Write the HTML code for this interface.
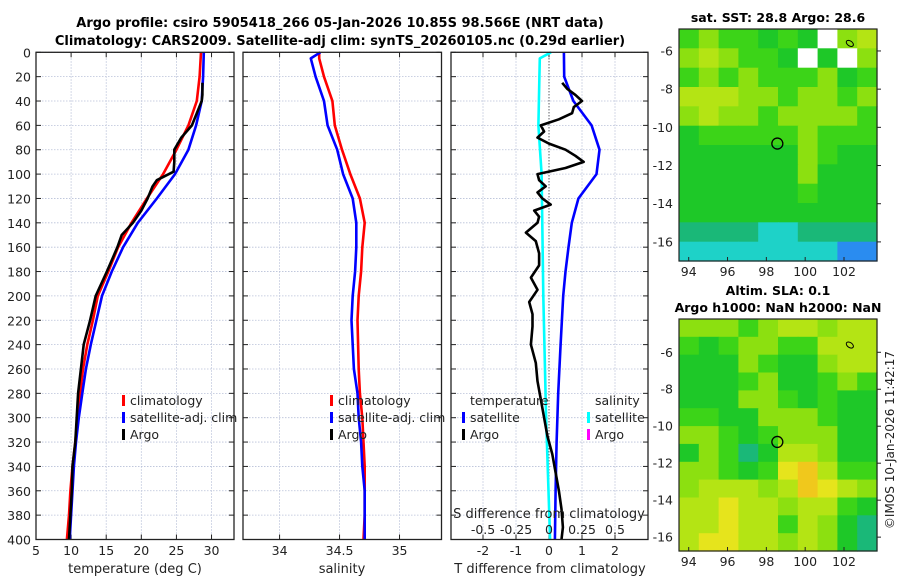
<!DOCTYPE html>
<html><head><meta charset="utf-8"><style>
body{margin:0;background:#fff}
svg{display:block;font-family:"DejaVu Sans","Liberation Sans",sans-serif}
</style></head><body>
<svg id="c" width="900" height="580" viewBox="0 0 900 580" xmlns="http://www.w3.org/2000/svg">
<text x="340" y="27" text-anchor="middle" font-size="13" font-weight="bold">Argo profile: csiro 5905418_266 05-Jan-2026 10.85S 98.566E (NRT data)</text>
<text x="340" y="45" text-anchor="middle" font-size="13" font-weight="bold">Climatology: CARS2009. Satellite-adj clim: synTS_20260105.nc (0.29d earlier)</text>
<text x="778" y="22" text-anchor="middle" font-size="12.5" font-weight="bold">sat. SST: 28.8 Argo: 28.6</text>
<text x="778" y="295" text-anchor="middle" font-size="12.5" font-weight="bold">Altim. SLA: 0.1</text>
<text x="778" y="312" text-anchor="middle" font-size="12.5" font-weight="bold">Argo h1000: NaN h2000: NaN</text>
<text transform="translate(894,440) rotate(-90)" text-anchor="middle" font-size="12" fill="#222">©IMOS 10-Jan-2026 11:42:17</text>
</svg>
<script>
// ---- data ----
const depthTicks=[0,20,40,60,80,100,120,140,160,180,200,220,240,260,280,300,320,340,360,380,400];
const tempTicks=[5,10,15,20,25,30];
const salTicks=[34,34.5,35];
const tdTicks=[-2,-1,0,1,2];
const sdTickLabels=['-0.5','-0.25','0','0.25','0.5'];
const sdTicks=[-0.5,-0.25,0,0.25,0.5];
const climDepth=[0,20,40,60,80,100,120,140,160,180,200,220,240,260,280,300,320,340,360,380,400];
const climTemp=[28.5,28.3,27.9,26.7,25.0,23.1,20.8,18.6,16.7,15.3,13.8,13.1,12.3,11.7,11.3,10.9,10.6,10.2,9.9,9.7,9.4];
const satTemp=[28.9,28.8,28.6,27.8,26.7,24.8,22.2,19.5,17.4,15.8,14.4,13.6,12.8,12.1,11.6,11.1,10.7,10.4,10.2,10.0,9.8];
const argoDepth=[25,35,40,50,60,70,80,90,98,105,110,120,130,140,150,160,180,200,220,240,260,280,300,320,340,360,380,400];
const argoTemp=[28.7,28.7,28.6,27.9,27.2,25.7,24.7,24.7,24.6,22.2,21.6,20.9,20.0,18.8,17.2,16.6,15.1,13.5,12.7,11.8,11.4,11.0,10.8,10.6,10.2,10.1,9.9,9.7];
const salDepth=[0,5,20,40,60,80,100,120,140,160,180,200,220,260,280,300,320,340,360,380,400];
const climSal=[34.33,34.33,34.37,34.44,34.46,34.52,34.59,34.67,34.71,34.69,34.68,34.66,34.65,34.66,34.67,34.69,34.70,34.71,34.71,34.71,34.70];
const satSal=[34.34,34.26,34.30,34.37,34.40,34.48,34.53,34.61,34.64,34.64,34.63,34.61,34.60,34.62,34.65,34.66,34.68,34.69,34.71,34.71,34.71];
const satTdDepth=[0,20,40,60,80,100,120,140,160,180,200,240,280,320,360,400];
const satTdiff=[0.45,0.46,0.74,1.29,1.53,1.44,0.89,0.69,0.59,0.5,0.43,0.35,0.28,0.23,0.2,0.18];
const argoTdDepth=[25,30,35,40,45,50,55,60,65,70,75,80,85,90,95,100,105,110,115,120,125,130,135,140,148,155,165,175,185,195,205,215,225,240,255,270,285,300,315,330,345,360,375,390,400];
const argoTdiff=[0.4,0.55,0.8,1.0,0.75,0.7,0.3,-0.25,-0.15,-0.35,0.0,0.5,0.8,1.05,0.5,-0.35,-0.3,-0.1,-0.35,-0.2,0.05,-0.45,-0.3,-0.35,-0.7,-0.4,-0.3,-0.3,-0.55,-0.35,-0.6,-0.5,-0.5,-0.55,-0.4,-0.35,-0.25,-0.15,-0.05,0.1,0.2,0.3,0.38,0.42,0.38];
const satSdDepth=[0,5,20,60,100,200,300,400];
const satSdiff=[0.015,-0.07,-0.073,-0.08,-0.056,-0.043,-0.022,0.008];
const lonTicks=[94,96,98,100,102];
const sstLatTicks=[-6,-8,-10,-12,-14,-16];
const sstGrid=["6766565n78","787665n5n7","6767666756","8887767767","7877677776","5666667666","5555557655","5555557555","5555556555","5555555555","4444334444","3333333311"];
const slaGrid=["7776788788","6567766888","5557655788","5556755676","5557765655","6655777655","7765677755","5764588755","776569a866","788878a987","8898878865","8898868754","8998878754"];
const profLon=[98.566];const profLat=[-10.85];

// ---- helpers ----
const svg=document.getElementById('c');const NS='http://www.w3.org/2000/svg';
function mk(t,a,p){const e=document.createElementNS(NS,t);for(const k in a)e.setAttribute(k,a[k]);(p||svg).appendChild(e);return e;}
const Y0=52.3,Y1=539.5;
const yD=d=>Y0+d*(Y1-Y0)/400;
function panel(x0,x1,lo,hi,name){
  const g=mk('g',{});
  
  
  return {g,x:v=>x0+(v-lo)*(x1-x0)/(hi-lo),x0,x1};
}
function line(p,xs,ds,col,name,w){
  let d='';for(let i=0;i<xs.length;i++)d+=(i?'L':'M')+p.x(xs[i]).toFixed(1)+','+yD(ds[i]).toFixed(1);
  const e=mk('path',{d:d,fill:'none',stroke:col,'stroke-width':w||2.6,'stroke-linejoin':'round'},p.g);
  
  
}
function frame(p,xt,labels){
  depthTicks.forEach(d=>{mk('line',{x1:p.x0,x2:p.x1,y1:yD(d),y2:yD(d),stroke:'#b8c0d8','stroke-width':0.8,'stroke-dasharray':'1.5,1.5'},p.g);});
  xt.forEach(v=>{mk('line',{x1:p.x(v),x2:p.x(v),y1:Y0,y2:Y1,stroke:'#b8c0d8','stroke-width':0.8,'stroke-dasharray':'1.5,1.5'},p.g);});
  depthTicks.forEach(d=>{mk('line',{x1:p.x0,x2:p.x0+5,y1:yD(d),y2:yD(d),stroke:'#222'},p.g);mk('line',{x1:p.x1-5,x2:p.x1,y1:yD(d),y2:yD(d),stroke:'#222'},p.g);});
  xt.forEach((v,i)=>{mk('line',{x1:p.x(v),x2:p.x(v),y1:Y1,y2:Y1-5,stroke:'#222'},p.g);mk('line',{x1:p.x(v),x2:p.x(v),y1:Y0,y2:Y0+5,stroke:'#222'},p.g);
    const t=mk('text',{x:p.x(v),y:555,'text-anchor':'middle','font-size':12.5,fill:'#222'},p.g);t.textContent=labels?labels[i]:v;
    
    });
}
function box(p){mk('rect',{x:p.x0,y:Y0,width:p.x1-p.x0,height:Y1-Y0,fill:'none',stroke:'#222','stroke-width':1.3},p.g);}
function txt(p,x,y,s,name,sz,anchor){const t=mk('text',{x:x,y:y,'font-size':sz||12.5,fill:'#222','text-anchor':anchor||'start'},p);t.textContent=s;
  
  return t;}
function legMark(g,x,y,col){mk('rect',{x:x,y:y-10,width:3,height:11,fill:col},g);}

// ---- panel 1: temperature ----
const p1=panel(36,234,5,33.2,'temperature-panel');
frame(p1,tempTicks);
depthTicks.forEach(d=>{txt(p1.g,31,yD(d)+5,d,'y-tick-label',12.5,'end');});
line(p1,climTemp,climDepth,'#f00','temp-climatology-line');
line(p1,satTemp,climDepth,'#00f','temp-satellite-line');
line(p1,argoTemp,argoDepth,'#000','temp-argo-line');
box(p1);
txt(p1.g,135,573,'temperature (deg C)','x-axis-title-temperature',13,'middle');
legMark(p1.g,122,405,'#f00');txt(p1.g,130,405,'climatology','legend-climatology');
legMark(p1.g,122,422,'#00f');txt(p1.g,130,422,'satellite-adj. clim','legend-satellite');
legMark(p1.g,122,439,'#000');txt(p1.g,130,439,'Argo','legend-argo');

// ---- panel 2: salinity ----
const p2=panel(243,441.5,33.695,35.35,'salinity-panel');
frame(p2,salTicks);
line(p2,climSal,salDepth,'#f00','sal-climatology-line');
line(p2,satSal,salDepth,'#00f','sal-satellite-line');
box(p2);
txt(p2.g,342,573,'salinity','x-axis-title-salinity',13,'middle');
legMark(p2.g,330,405,'#f00');txt(p2.g,338,405,'climatology','legend-climatology');
legMark(p2.g,330,422,'#00f');txt(p2.g,338,422,'satellite-adj. clim','legend-satellite');
legMark(p2.g,330,439,'#000');txt(p2.g,338,439,'Argo','legend-argo');

// ---- panel 3: differences ----
const p3=panel(451,648,-2.97,3.0,'difference-panel');
frame(p3,tdTicks);
mk('line',{x1:p3.x(0),x2:p3.x(0),y1:Y0,y2:Y1,stroke:'#333','stroke-width':1,'stroke-dasharray':'1,2'},p3.g);
const p3s={g:p3.g,x:v=>p3.x(v*4)};
line(p3s,satSdiff,satSdDepth,'#0ff','sal-satellite-diff-line');
line(p3,satTdiff,satTdDepth,'#00f','temp-satellite-diff-line');
line(p3,argoTdiff,argoTdDepth,'#000','temp-argo-diff-line');
box(p3);
txt(p3.g,550,573,'T difference from climatology','x-axis-title-tdiff',13,'middle');
txt(p3.g,549,518,'S difference from climatology','s-axis-title',13,'middle');
sdTicks.forEach((v,i)=>txt(p3.g,p3s.x(v),534,sdTickLabels[i],'s-tick-label',12.5,'middle'));
txt(p3.g,470,405,'temperature','legend-temperature-header');
legMark(p3.g,462,422,'#00f');txt(p3.g,470,422,'satellite','legend-temp-satellite');
legMark(p3.g,462,439,'#000');txt(p3.g,470,439,'Argo','legend-temp-argo');
txt(p3.g,595,405,'salinity','legend-salinity-header');
legMark(p3.g,587,422,'#0ff');txt(p3.g,595,422,'satellite','legend-sal-satellite');
legMark(p3.g,587,439,'#f0f');txt(p3.g,595,439,'Argo','legend-sal-argo');

// ---- maps ----
const cmap={'1':'#2a8cf0','2':'#22c0e8','3':'#1ed2c8','4':'#1ab878','5':'#1ec828','6':'#3cd418','7':'#8ce010','8':'#b4e414','9':'#e6e41c','a':'#f0c81c','n':'#ffffff'};
function map(name,x0,x1,y0,y1,lonLo,lonHi,latTop,latBot,grid,latTicks){
  const g=mk('g',{});
  
  
  const lx=v=>x0+(v-lonLo)*(x1-x0)/(lonHi-lonLo), ly=v=>y0+(latTop-v)*(y1-y0)/(latTop-latBot);
  const rows=grid.length, cols=grid[0].length, cw=(x1-x0)/cols, ch=(y1-y0)/rows;
  grid.forEach((r,i)=>{for(let j=0;j<cols;j++){const e=mk('rect',{x:(x0+j*cw).toFixed(1),y:(y0+i*ch).toFixed(1),width:(cw+0.6).toFixed(1),height:(ch+0.6).toFixed(1),fill:cmap[r[j]]},g);
    
    }});
  mk('rect',{x:x0,y:y0,width:x1-x0,height:y1-y0,fill:'none',stroke:'#222','stroke-width':1.2},g);
  lonTicks.forEach(v=>{mk('line',{x1:lx(v),x2:lx(v),y1:y1,y2:y1-4,stroke:'#222'},g);txt(g,lx(v),y1+15,v,'lon-tick-label',12.5,'middle');});
  latTicks.forEach(v=>{mk('line',{x1:x1,x2:x1+4,y1:ly(v),y2:ly(v),stroke:'#222'},g);txt(g,x0-6,ly(v)+4.5,v,'lat-tick-label',12.5,'end');});
  const c=mk('circle',{cx:lx(profLon[0]),cy:ly(profLat[0]),r:5.5,fill:'none',stroke:'#000','stroke-width':1.3},g);
  
  
  mk('ellipse',{cx:lx(102.3),cy:ly(-5.5)+2,rx:4,ry:2.5,fill:'none',stroke:'#000',transform:'rotate(35 '+lx(102.3)+' '+(ly(-5.5)+2)+')'},g);
}
map('sst-map',679,877,29,261,93.5,103.7,-4.85,-17.0,sstGrid,sstLatTicks);
map('sla-map',679,877,319,551,93.5,103.7,-4.2,-16.75,slaGrid,sstLatTicks);
</script>
</body></html>
